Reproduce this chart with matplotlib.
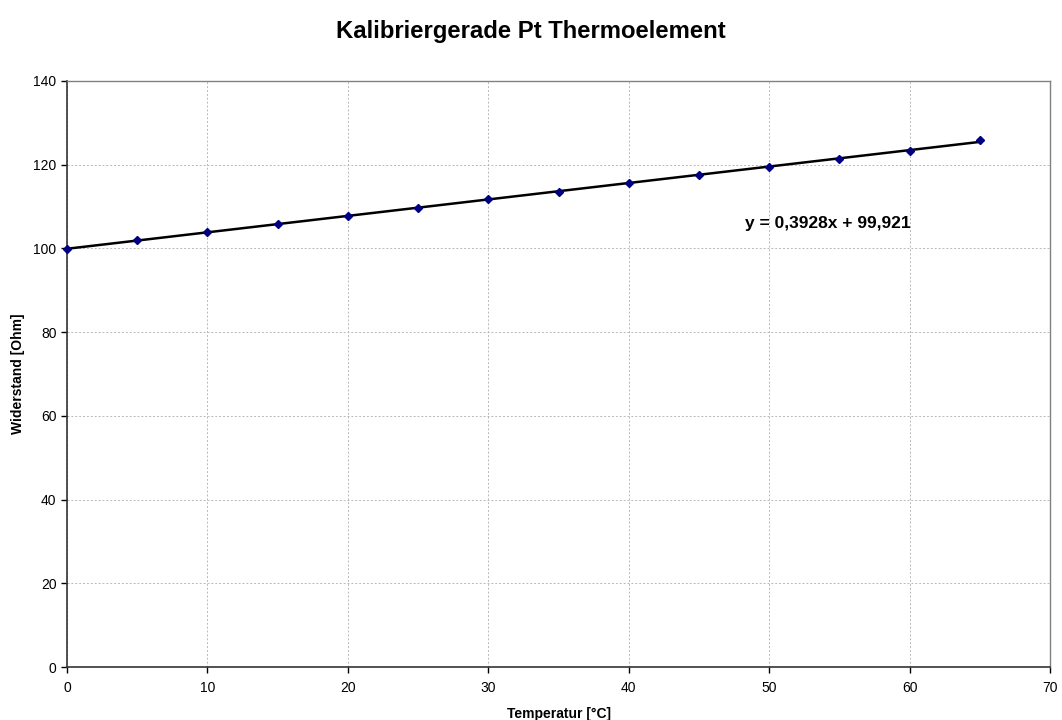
import numpy as np
import matplotlib
matplotlib.use("Agg")
import matplotlib.pyplot as plt

plt.rcParams['font.family'] = ['Liberation Sans', 'DejaVu Sans']

# Calibration measurements
temperature = [0, 5, 10, 15, 20, 25, 30, 35, 40, 45, 50, 55, 60, 65]
resistance = [99.9, 101.9, 103.85, 105.8, 107.8, 109.75, 111.7, 113.6,
              115.6, 117.5, 119.45, 121.4, 123.3, 126.0]

# Linear trend line parameters
slope = 0.3928
intercept = 99.921

x_ticks = [0, 10, 20, 30, 40, 50, 60, 70]
y_ticks = [0, 20, 40, 60, 80, 100, 120, 140]

fig = plt.figure(figsize=(10.62, 7.2), dpi=100)
ax = fig.add_axes([0.0631, 0.0736, 0.9256, 0.8139])

ax.set_xlim(0, 70)
ax.set_ylim(0, 140)
ax.set_xticks(x_ticks)
ax.set_yticks(y_ticks)
ax.grid(True, color='#b8b8b8', linestyle=(0, (2, 2)), linewidth=0.7)
ax.set_axisbelow(True)

t = np.array([temperature[0], temperature[-1]], dtype=float)
ax.plot(t, slope * t + intercept, color='black', linewidth=1.8, zorder=3)
ax.plot(temperature, resistance, linestyle='none', marker='D', markersize=4,
        color='#000080', zorder=4, clip_on=False)

ax.text(48.3, 106, 'y = 0,3928x + 99,921', fontsize=12.5, fontweight='bold',
        ha='left', va='center')

for side in ('left', 'bottom'):
    ax.spines[side].set_color('#333333')
    ax.spines[side].set_linewidth(1.2)
for side in ('top', 'right'):
    ax.spines[side].set_color('#808080')
    ax.spines[side].set_linewidth(1.0)

ax.tick_params(direction='out', length=4, width=1, labelsize=10, colors='black')
ax.tick_params(axis='x', pad=6)

ax.set_xlabel('Temperatur [°C]', fontsize=10, fontweight='bold', labelpad=9)
ax.set_ylabel('Widerstand [Ohm]', fontsize=10, fontweight='bold', labelpad=6)

fig.suptitle('Kalibriergerade Pt Thermoelement', fontsize=17.2,
             fontweight='bold', x=0.5, y=0.972)

fig.savefig('out.png', dpi=100)
